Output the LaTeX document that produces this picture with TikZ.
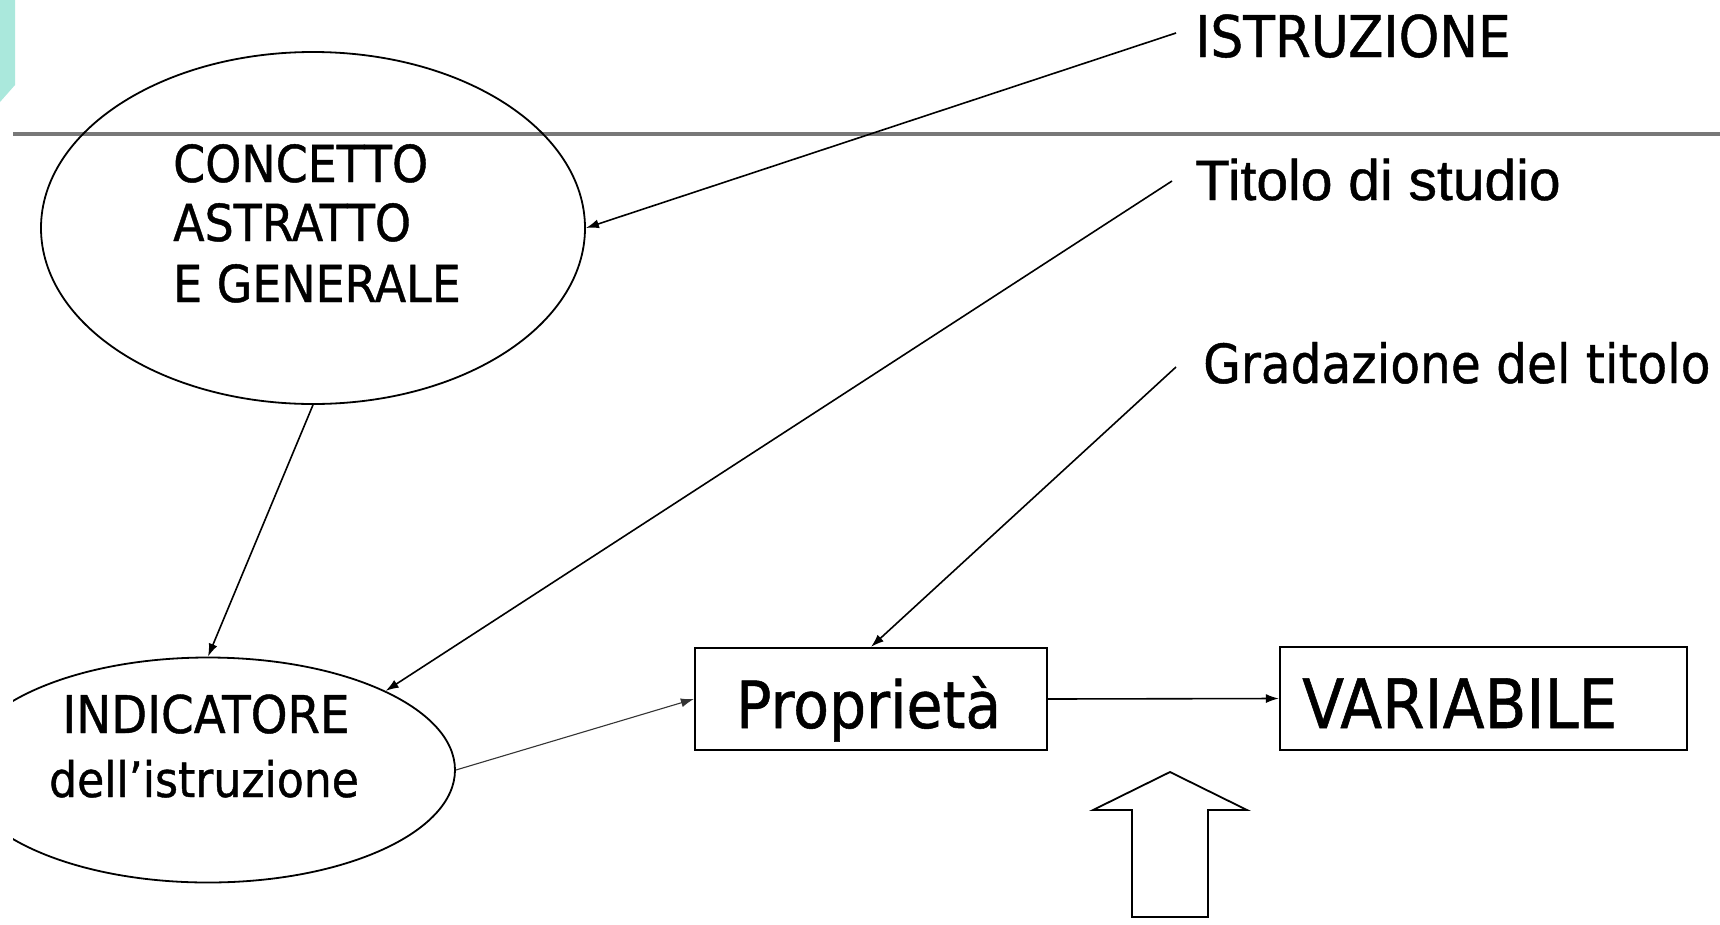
\documentclass[tikz,border=0pt]{standalone}
\usepackage{fontspec}
\usetikzlibrary{arrows.meta,shapes.geometric}
\newfontfamily\tah[FakeStretch=0.9,FakeBold=0.8]{DejaVu Sans}
\newfontfamily\ari[FakeBold=0.8]{Liberation Sans}
\definecolor{tealc}{RGB}{170,232,220}
\definecolor{rulec}{RGB}{120,120,120}
\begin{document}
\begin{tikzpicture}[x=1pt,y=-1pt,
  conn/.style={draw=black, line width=1.6pt, -{Latex[length=13pt,width=9pt]}},
  thinconn/.style={draw=black!80, line width=1.1pt, -{Latex[length=13pt,width=9pt]}},
  ell/.style={draw, ellipse, line width=1.8pt, inner sep=0pt},
  box/.style={draw, rectangle, line width=2.2pt, inner sep=0pt},
  lbl/.style={anchor=base west, inner sep=0pt},
  clbl/.style={anchor=base, inner sep=0pt}]
\useasboundingbox (0,0) rectangle (1720,924);
\fill[white] (0,0) rectangle (1720,924);
% decoration at top left
\fill[tealc] (0,0) -- (15,0) -- (15,85) -- (0,102) -- cycle;
% horizontal rule
\draw[rulec, line width=3.5pt] (13,134) -- (1720,134);

% ellipse 1
\node[ell, minimum width=544pt, minimum height=352pt] (e1) at (313,228) {};
\node[lbl, font={\tah\fontsize{51}{60}\selectfont}] (c1) at (173,182) {CONCETTO};
\node[lbl, font={\tah\fontsize{51}{60}\selectfont}] (c2) at (173,241) {ASTRATTO};
\node[lbl, font={\tah\fontsize{51}{60}\selectfont}] (c3) at (173,302) {E GENERALE};

% ellipse 2 (clipped at the left)
\begin{scope}
\clip (13,0) rectangle (1720,924);
\node[ell, minimum width=494pt, minimum height=225pt] (e2) at (208,770) {};
\end{scope}
\node[clbl, font={\tah\fontsize{52}{60}\selectfont}] (i1) at (206,733) {INDICATORE};
\node[clbl, font={\tah\fontsize{49}{60}\selectfont}] (i2) at (204,797) {dell’istruzione};

% boxes
\node[box, minimum width=352pt, minimum height=102pt] (prop) at (871,699) {};
\node[lbl, font={\tah\fontsize{65}{70}\selectfont}] (propt) at (736,728) {Proprietà};
\node[box, minimum width=407pt, minimum height=103pt] (var) at (1483.5,698.5) {};
\node[lbl, font={\tah\fontsize{68}{70}\selectfont}] (vart) at (1302,728) {VARIABILE};

% right labels
\node[lbl, font={\tah\fontsize{57.5}{60}\selectfont}] (istr) at (1195,57) {ISTRUZIONE};
\node[lbl, font={\ari\fontsize{57}{60}\selectfont}] (tit) at (1195,200) {Titolo di studio};
\node[lbl, font={\tah\fontsize{54}{60}\selectfont}] (grad) at (1203,383) {Gradazione del titolo};

\coordinate (istrs) at (1176,33);
\coordinate (tits) at (1172,181);
\coordinate (grads) at (1176,367);

% connectors
\draw[conn] (istrs) -- (e1.east);
\draw[conn] (tits) -- (e2.24);
\draw[conn] (grads) -- (prop.north);
\draw[conn] (e1.south) -- (e2.north);
\draw[thinconn] (e2.east) -- (prop.west);
\draw[conn] (prop.east) -- (var.west);

% block arrow
\draw[line width=1.8pt, line join=miter] (1170,772) -- (1247,810) -- (1208,810) -- (1208,917)
  -- (1132,917) -- (1132,810) -- (1093,810) -- cycle;
\end{tikzpicture}
\end{document}
